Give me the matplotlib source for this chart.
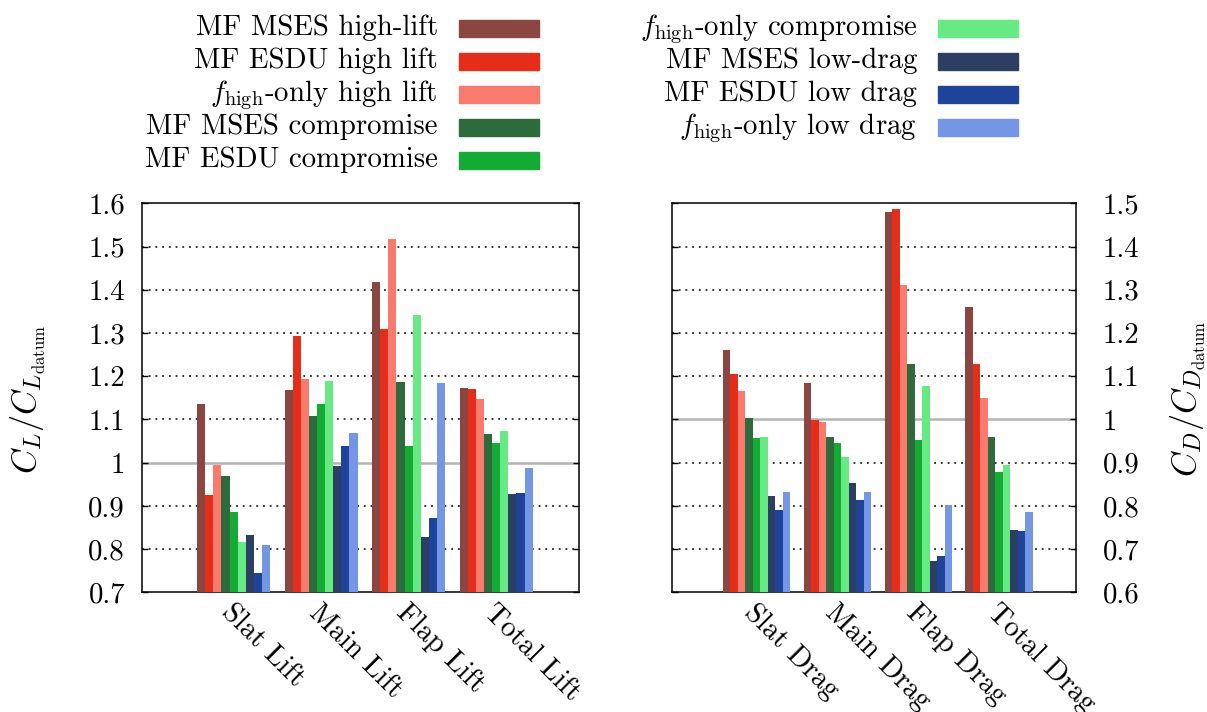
import matplotlib
matplotlib.use("Agg")
import matplotlib.pyplot as plt
import numpy as np
from matplotlib.ticker import FuncFormatter, MultipleLocator
from matplotlib.patches import Rectangle

plt.rcParams['font.family'] = 'cmr10'
plt.rcParams['mathtext.fontset'] = 'cm'
plt.rcParams['axes.formatter.use_mathtext'] = True

series_labels = [
    "MF MSES high-lift",
    "MF ESDU high lift",
    r"$f_\mathrm{high}$-only high lift",
    "MF MSES compromise",
    "MF ESDU compromise",
    r"$f_\mathrm{high}$-only compromise",
    "MF MSES low-drag",
    "MF ESDU low drag",
    r"$f_\mathrm{high}$-only low drag",
]
series_colors = ["#8c4642", "#e52d19", "#fa7a6e", "#2e6b3c", "#14ab35",
                 "#67ea84", "#2c3e63", "#1d449a", "#7497e5"]

lift_categories = ["Slat Lift", "Main Lift", "Flap Lift", "Total Lift"]
drag_categories = ["Slat Drag", "Main Drag", "Flap Drag", "Total Drag"]

# values per series: [slat, main, flap, total]
lift_mses_high = [1.136, 1.168, 1.418, 1.173]
lift_esdu_high = [0.925, 1.293, 1.309, 1.170]
lift_fhigh_high = [0.995, 1.193, 1.517, 1.147]
lift_mses_comp = [0.969, 1.108, 1.187, 1.066]
lift_esdu_comp = [0.886, 1.136, 1.038, 1.045]
lift_fhigh_comp = [0.816, 1.189, 1.341, 1.073]
lift_mses_low = [0.833, 0.992, 0.828, 0.927]
lift_esdu_low = [0.745, 1.038, 0.872, 0.930]
lift_fhigh_low = [0.809, 1.069, 1.184, 0.988]

drag_mses_high = [1.161, 1.084, 1.480, 1.260]
drag_esdu_high = [1.105, 0.999, 1.487, 1.128]
drag_fhigh_high = [1.066, 0.994, 1.311, 1.050]
drag_mses_comp = [1.003, 0.959, 1.128, 0.959]
drag_esdu_comp = [0.957, 0.945, 0.952, 0.878]
drag_fhigh_comp = [0.959, 0.913, 1.077, 0.895]
drag_mses_low = [0.823, 0.853, 0.672, 0.744]
drag_esdu_low = [0.790, 0.814, 0.684, 0.742]
drag_fhigh_low = [0.832, 0.832, 0.802, 0.786]

lift_series = [lift_mses_high, lift_esdu_high, lift_fhigh_high, lift_mses_comp,
               lift_esdu_comp, lift_fhigh_comp, lift_mses_low, lift_esdu_low, lift_fhigh_low]
drag_series = [drag_mses_high, drag_esdu_high, drag_fhigh_high, drag_mses_comp,
               drag_esdu_comp, drag_fhigh_comp, drag_mses_low, drag_esdu_low, drag_fhigh_low]

W, H = 1207, 712
fig = plt.figure(figsize=(W / 100, H / 100), dpi=100)

axL = fig.add_axes([141.7 / W, 1 - 592.3 / H, 437.6 / W, 389 / H])
axR = fig.add_axes([671.7 / W, 1 - 592.3 / H, 404.3 / W, 389 / H])

bw = 0.0926
FS = 20.8
FS_LAB = 24.5


def draw(ax, series, cats, ymin, ymax, right):
    x = np.arange(1, len(cats) + 1)
    for i, (vals, col, lab) in enumerate(zip(series, series_colors, series_labels)):
        ax.bar(x + (i - 4) * bw, np.array(vals) - ymin, bottom=ymin, width=bw,
               color=col, label=lab, zorder=3, linewidth=0)
    ax.set_xlim(-0.05, 4.95)
    ax.set_ylim(ymin, ymax)
    ax.yaxis.set_major_locator(MultipleLocator(0.1))
    ax.yaxis.set_major_formatter(FuncFormatter(lambda v, p: "%g" % round(v, 2)))
    for yv in np.arange(ymin + 0.1, ymax - 0.05, 0.1):
        if abs(yv - 1.0) < 1e-6:
            ax.axhline(yv, color="#b4b4b4", lw=1.8, zorder=1)
        else:
            ax.axhline(yv, color="black", lw=1.1, ls=(0, (1.2, 3.2)), zorder=1)
    ax.set_xticks(x)
    ax.set_xticklabels([])
    ax.tick_params(axis="x", length=0)
    ax.tick_params(axis="y", direction="in", length=4, width=1, labelsize=FS,
                   left=True, right=True, labelleft=not right, labelright=right,
                   pad=19 if right else 12)
    for s in ax.spines.values():
        s.set_linewidth(1.1)
    for xi, c in zip(x, cats):
        ax.annotate(c, xy=(xi, ymin), xytext=(1, -5), textcoords="offset points",
                    rotation=-45, rotation_mode="anchor", ha="left", va="top",
                    fontsize=FS, annotation_clip=False)


draw(axL, lift_series, lift_categories, 0.7, 1.6, False)
draw(axR, drag_series, drag_categories, 0.6, 1.5, True)

fig.text(28 / W, 1 - 399 / H, r"$C_L/C_{L_\mathrm{datum}}$", rotation=90,
         ha="center", va="center", fontsize=FS_LAB)
fig.text(1188 / W, 1 - 399 / H, r"$C_D/C_{D_\mathrm{datum}}$", rotation=90,
         ha="center", va="center", fontsize=FS_LAB)

# legend (two columns, label right-aligned left of colour swatch)
col_patch_x = [459, 938]
col_rows = [5, 4]
row_y = [28.5, 61.5, 94.5, 127.5, 160.5]
k = 0
for c, nrows in enumerate(col_rows):
    for r in range(nrows):
        px = col_patch_x[c]
        cy = row_y[r]
        fig.patches.append(Rectangle((px / W, 1 - (cy + 8.5) / H), 80 / W, 17 / H,
                                     transform=fig.transFigure, color=series_colors[k]))
        fig.text((px - 21) / W, 1 - (cy + 6.5) / H, series_labels[k],
                 ha="right", va="baseline", fontsize=FS)
        k += 1

fig.savefig("out.png", dpi=100)
